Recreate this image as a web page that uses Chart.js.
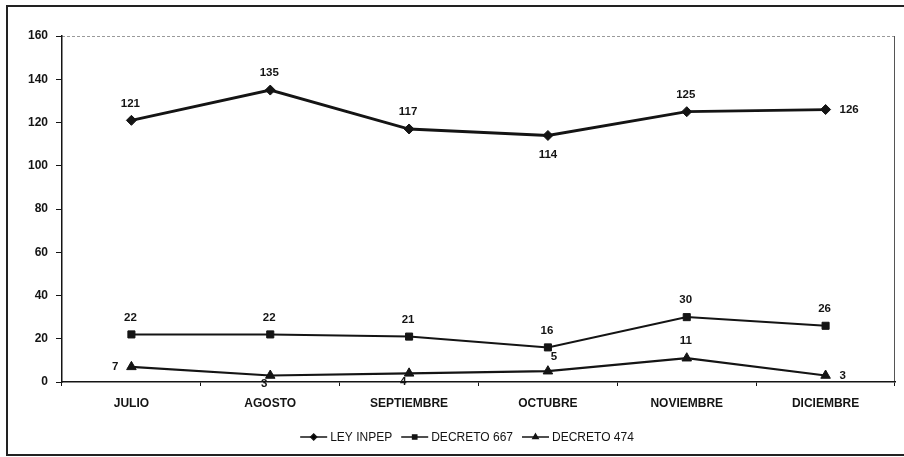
<!DOCTYPE html>
<html>
<head>
<meta charset="utf-8">
<script src="https://cdn.jsdelivr.net/npm/chart.js@4.4.1/dist/chart.umd.min.js"></script>
<style>
  html, body { margin: 0; padding: 0; background: #fff; }
  #wrap { width: 904px; height: 457px; position: relative; }
</style>
</head>
<body>
<div id="wrap"><canvas id="chart" width="904" height="457"></canvas></div>
<script>
// data
const months = ['JULIO', 'AGOSTO', 'SEPTIEMBRE', 'OCTUBRE', 'NOVIEMBRE', 'DICIEMBRE'];
const leyInpep = [121, 135, 117, 114, 125, 126];
const decreto667 = [22, 22, 21, 16, 30, 26];
const decreto474 = [7, 3, 4, 5, 11, 3];
const yTicks = [0, 20, 40, 60, 80, 100, 120, 140, 160];

// where each value label sits relative to its point
const posInpep = ['above', 'above', 'above', 'below', 'above', 'right'];
const pos667 = ['above', 'above', 'above', 'above', 'above', 'above'];
const pos474 = ['left', 'belowLeft', 'belowLeft', 'aboveRight', 'above', 'right'];

const ink = '#141414';
const font = '"Liberation Sans", Arial, sans-serif';

const valueLabels = {
  id: 'valueLabels',
  afterDatasetsDraw(chart) {
    const ctx = chart.ctx;
    ctx.save();
    ctx.font = 'bold 11.5px ' + font;
    ctx.fillStyle = ink;
    ctx.textBaseline = 'middle';
    chart.data.datasets.forEach((ds, i) => {
      const meta = chart.getDatasetMeta(i);
      meta.data.forEach((pt, j) => {
        const p = ds.labelPos[j];
        let x = pt.x, y = pt.y;
        ctx.textAlign = 'center';
        if (p === 'above') { y -= 17; x -= 1; }
        else if (p === 'below') { y += 19; }
        else if (p === 'belowLeft') { x -= 6; y += 8; }
        else if (p === 'left') { x -= 13; ctx.textAlign = 'right'; }
        else if (p === 'right') { x += 14; ctx.textAlign = 'left'; }
        else if (p === 'aboveRight') { x += 6; y -= 14; }
        ctx.fillText(String(ds.data[j]), x, y);
      });
    });
    ctx.restore();
  }
};

const frame = {
  id: 'frame',
  beforeDraw(chart) {
    const ctx = chart.ctx;
    const a = chart.chartArea;
    ctx.save();
    ctx.fillStyle = '#fff';
    ctx.fillRect(0, 0, chart.width, chart.height);
    // outer box
    ctx.strokeStyle = '#222';
    ctx.lineWidth = 2;
    ctx.strokeRect(7, 6, chart.width, 449);
    // plot box: dashed top, grey right
    ctx.lineWidth = 1;
    ctx.strokeStyle = '#9a9a9a';
    ctx.setLineDash([3, 2]);
    ctx.beginPath();
    ctx.moveTo(a.left, a.top + 0.5);
    ctx.lineTo(a.right, a.top + 0.5);
    ctx.stroke();
    ctx.setLineDash([]);
    ctx.strokeStyle = '#555';
    ctx.beginPath();
    ctx.moveTo(a.right - 0.5, a.top);
    ctx.lineTo(a.right - 0.5, a.bottom);
    ctx.stroke();
    ctx.restore();
  }
};

const lineLegend = {
  id: 'lineLegend',
  afterDraw(chart) {
    const ctx = chart.ctx;
    ctx.save();
    ctx.font = '12px ' + font;
    const y = 437;
    const symW = 27, gapAfterSym = 3, gapItems = 9;
    const items = chart.data.datasets.map(ds => ({ ds, w: ctx.measureText(ds.label).width }));
    const total = items.reduce((s, it) => s + symW + gapAfterSym + it.w, 0) + gapItems * (items.length - 1);
    let x = 467 - total / 2;
    items.forEach(it => {
      ctx.strokeStyle = ink;
      ctx.lineWidth = 1.5;
      ctx.beginPath();
      ctx.moveTo(x, y);
      ctx.lineTo(x + symW, y);
      ctx.stroke();
      Chart.helpers.drawPoint(ctx, { pointStyle: it.ds.pointStyle, radius: 3, borderWidth: 1 }, x + symW / 2, y);
      ctx.fillStyle = ink;
      ctx.textBaseline = 'middle';
      ctx.textAlign = 'left';
      ctx.fillText(it.ds.label, x + symW + gapAfterSym, y + 0.5);
      x += symW + gapAfterSym + it.w + gapItems;
    });
    ctx.restore();
  }
};

function series(label, data, style, width, radius, labelPos) {
  return {
    label, data, labelPos,
    borderColor: ink, backgroundColor: ink,
    pointBackgroundColor: ink, pointBorderColor: ink,
    borderWidth: width, pointStyle: style, pointRadius: radius, pointBorderWidth: 1,
    tension: 0
  };
}

new Chart(document.getElementById('chart'), {
  type: 'line',
  data: {
    labels: months,
    datasets: [
      series('LEY INPEP', leyInpep, 'rectRot', 2.8, 5, posInpep),
      series('DECRETO 667', decreto667, 'rect', 2, 5, pos667),
      series('DECRETO 474', decreto474, 'triangle', 2.2, 5.5, pos474)
    ]
  },
  options: {
    responsive: false,
    animation: false,
    layout: { padding: { top: 36, right: 9, left: 0, bottom: 0 } },
    plugins: { legend: { display: false }, tooltip: { enabled: false } },
    scales: {
      x: {
        offset: true,
        afterFit(s) { s.height = 75; },
        grid: { offset: true, drawOnChartArea: false, tickLength: 4, color: ink },
        border: { color: ink, width: 1.5 },
        ticks: { color: ink, font: { family: font, size: 12, weight: 'bold' }, padding: 10, maxRotation: 0 }
      },
      y: {
        min: 0, max: 160,
        afterFit(s) { s.width = 62; },
        afterBuildTicks(s) { s.ticks = yTicks.map(v => ({ value: v })); },
        grid: { drawOnChartArea: false, tickLength: 6, color: ink },
        border: { color: ink, width: 1.5 },
        ticks: { color: ink, font: { family: font, size: 12, weight: 'bold' }, padding: 8 }
      }
    }
  },
  plugins: [frame, valueLabels, lineLegend]
});
</script>
</body>
</html>
